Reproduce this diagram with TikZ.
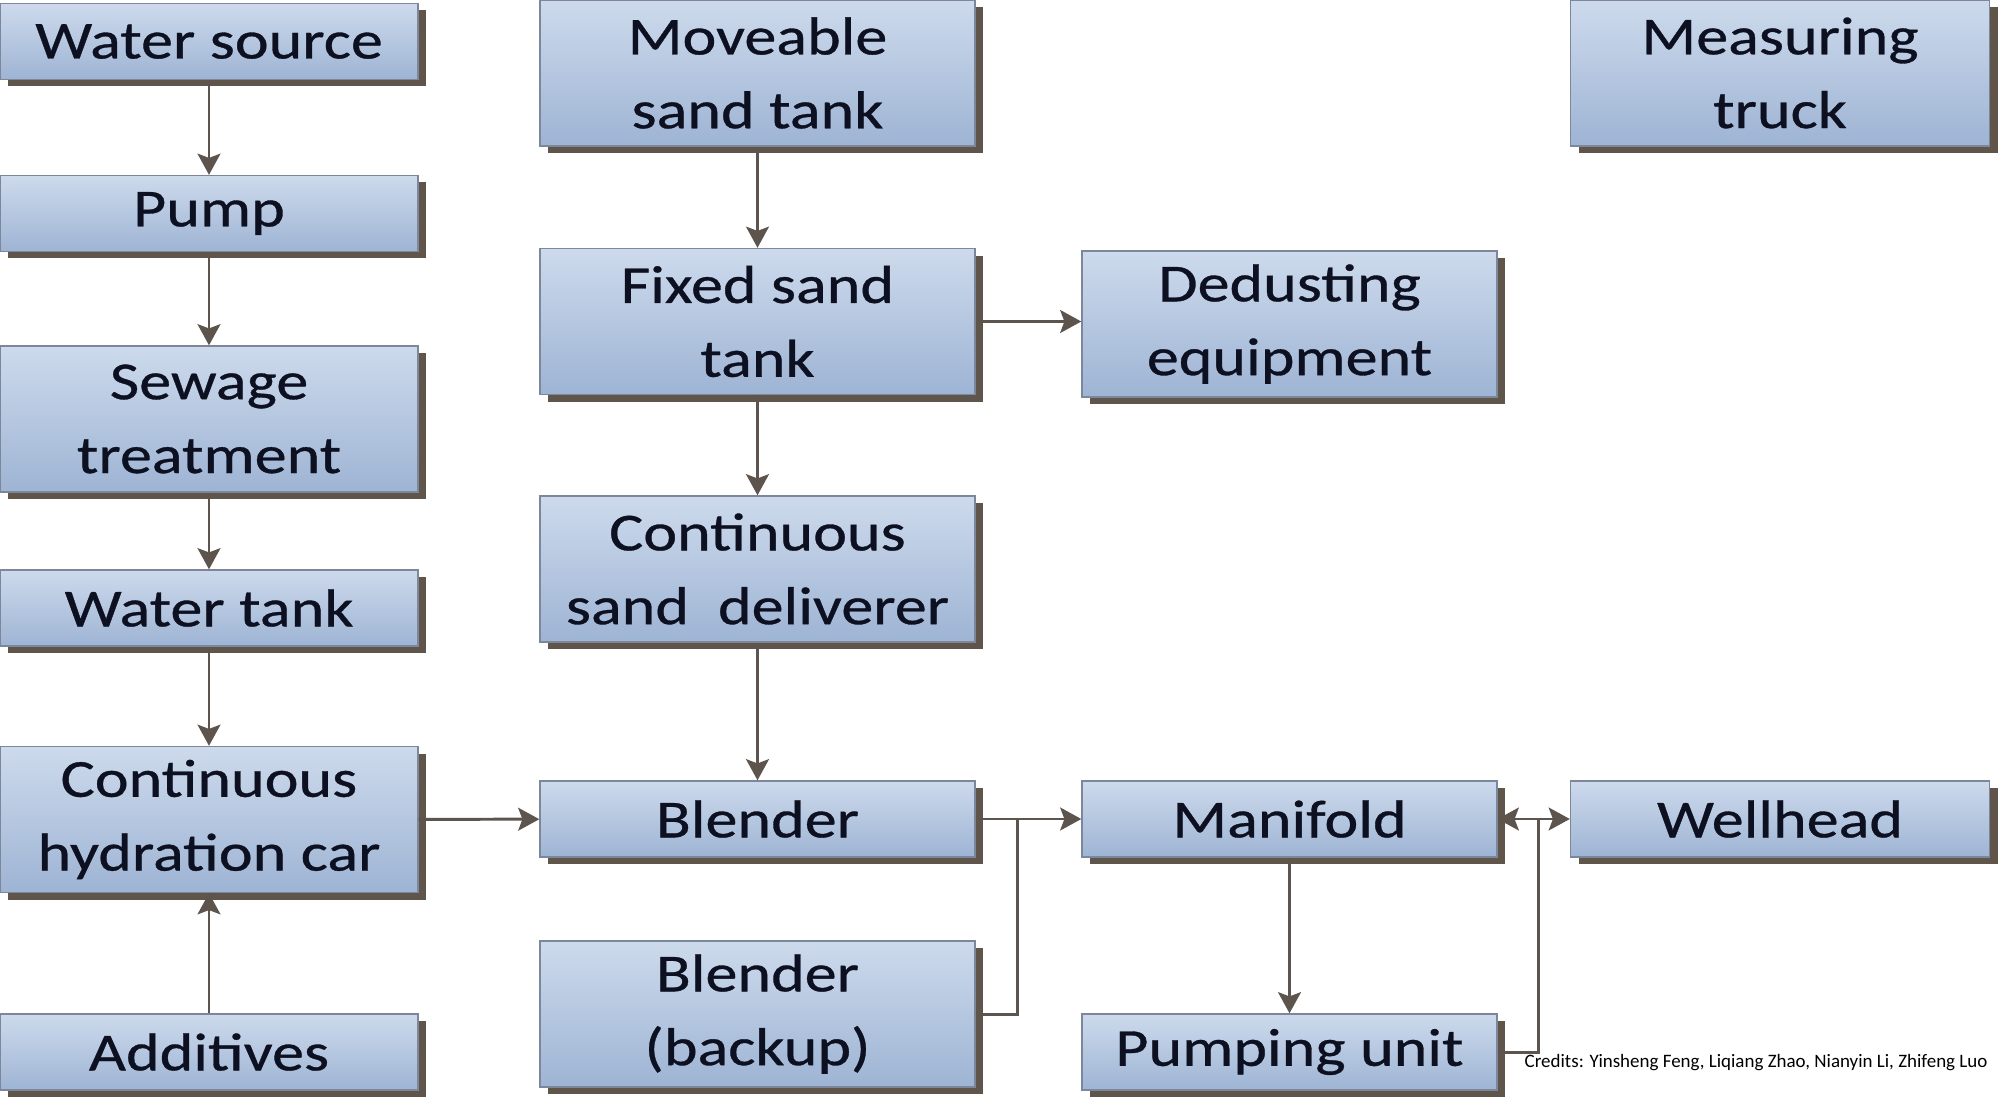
\documentclass[tikz,border=0pt]{standalone}
\usepackage{fontspec}
\setmainfont{Carlito}[FakeStretch=1.2,FakeBold=0.6]
\newfontfamily\creditfont{Carlito}
\usetikzlibrary{arrows.meta,shadows}
\definecolor{boxtop}{RGB}{205,218,236}
\definecolor{boxbottom}{RGB}{158,180,212}
\definecolor{boxline}{RGB}{125,135,155}
\definecolor{boxshadow}{RGB}{95,85,75}
\definecolor{flowline}{RGB}{92,84,77}
\definecolor{boxtext}{RGB}{12,16,32}

\begin{document}
\begin{tikzpicture}[
  box/.style={draw=boxline, line width=0.4pt, top color=boxtop, bottom color=boxbottom,
    minimum height=0.76cm, inner sep=0pt, align=center, text=boxtext,
    font=\fontsize{15.2}{21}\selectfont,
    drop shadow={shadow xshift=0.08cm, shadow yshift=-0.07cm, fill=boxshadow, opacity=1}},
  tall/.style={box, minimum height=1.46cm},
  flow/.style={draw=flowline, line width=0.85pt, -{Stealth[length=6pt,width=6.5pt,inset=1.2pt]}},
  wire/.style={draw=flowline, line width=0.85pt}
]
\useasboundingbox (0,0) rectangle (20,10.96);

% water line
\node[box, minimum width=4.18cm] (source) at (2.09,10.545) {Water source};
\node[box, minimum width=4.18cm] (pump) at (2.09,8.825) {Pump};
\node[tall, minimum width=4.18cm] (sewage) at (2.09,6.77) {Sewage\\treatment};
\node[box, minimum width=4.18cm] (watertank) at (2.09,4.88) {Water tank};
\node[tall, minimum width=4.18cm] (hydration) at (2.09,2.765) {Continuous\\hydration car};
\node[box, minimum width=4.18cm] (additives) at (2.09,0.44) {Additives};

% sand line
\node[tall, minimum width=4.35cm] (moveable) at (7.575,10.23) {Moveable\\sand tank};
\node[tall, minimum width=4.35cm] (fixed) at (7.575,7.745) {Fixed sand\\tank};
\node[tall, minimum width=4.35cm] (deliverer) at (7.575,5.27) {Continuous\\sand\ \ deliverer};
\node[box, minimum width=4.35cm] (blender) at (7.575,2.77) {Blender};
\node[tall, minimum width=4.35cm] (backup) at (7.575,0.82) {Blender\\(backup)};

% manifold side
\node[tall, minimum width=4.15cm] (dedusting) at (12.895,7.72) {Dedusting\\equipment};
\node[box, minimum width=4.15cm] (manifold) at (12.895,2.77) {Manifold};
\node[box, minimum width=4.15cm] (pumping) at (12.895,0.44) {Pumping unit};

\node[tall, minimum width=4.19cm] (truck) at (17.8,10.23) {Measuring\\truck};
\node[box, minimum width=4.19cm] (wellhead) at (17.8,2.77) {Wellhead};

\node[font=\creditfont\fontsize{5.4}{6}\selectfont, anchor=west, inner sep=0pt] (credits) at (15.24,0.33)
  {Credits: Yinsheng Feng, Liqiang Zhao, Nianyin Li, Zhifeng Luo};

% connectors
\draw[flow] (source) -- (pump);
\draw[flow] (pump) -- (sewage);
\draw[flow] (sewage) -- (watertank);
\draw[flow] (watertank) -- (hydration);
\draw[flow] (additives) -- (hydration);
\draw[flow] (hydration) -- (blender);

\draw[flow] (moveable) -- (fixed);
\draw[flow] (fixed) -- (deliverer);
\draw[flow] (deliverer) -- (blender);
\draw[flow] (fixed) -- (fixed -| dedusting.west);

\coordinate (bjoin) at (10.17,2.77);
\coordinate (pjoin) at (15.38,2.77);
\draw[flow] (blender) -- (manifold);
\draw[wire] (backup.east) -| (bjoin);
\draw[flow] (manifold) -- (pumping);
\draw[flow, {Stealth[length=6pt,width=6.5pt,inset=1.2pt]}-{Stealth[length=6pt,width=6.5pt,inset=1.2pt]}] (manifold) -- (wellhead);
\draw[wire] (pumping.east) -| (pjoin);
\end{tikzpicture}
\end{document}
